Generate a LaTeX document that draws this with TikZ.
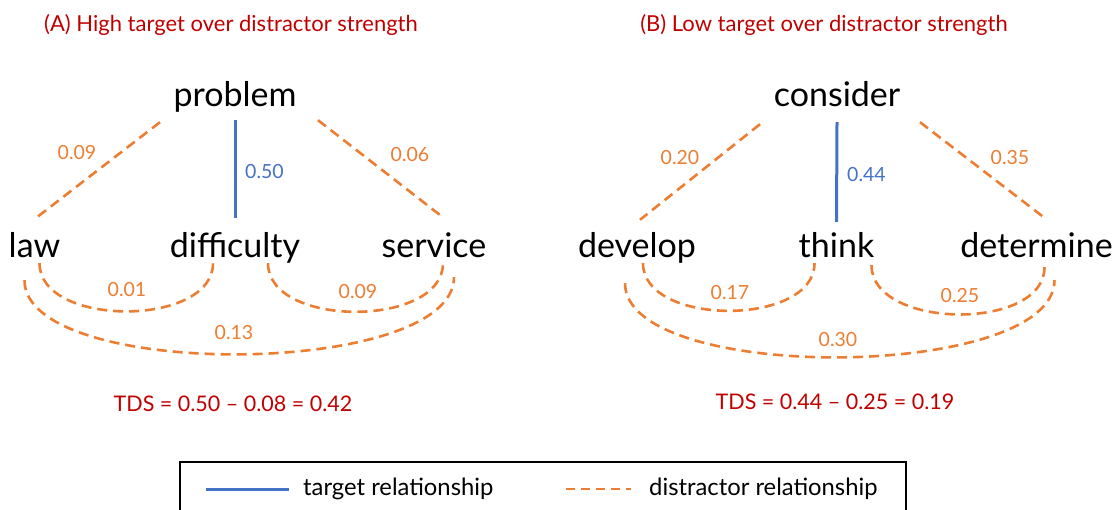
\documentclass[tikz,border=0pt]{standalone}
\usepackage{fontspec}
\setmainfont{Lato}
\usetikzlibrary{positioning, calc}

\definecolor{tgtblue}{HTML}{4472C4}
\definecolor{dstorange}{HTML}{ED7D31}
\definecolor{ttlred}{HTML}{C00000}

\begin{document}
\begin{tikzpicture}
   [
      x=1pt, y=1pt,
      % Style for the words of each triad
      word/.style={font=\fontsize{34}{38}\selectfont, inner sep=0pt, text height=23pt, text depth=7pt, anchor=base},
      % Style for the target (solid) and distractor (dashed) links
      target link/.style={draw=tgtblue, line width=3pt},
      distractor link/.style={draw=dstorange, line width=2.6pt, dash pattern=on 10pt off 6pt},
      % Style for the strength values on the links
      value/.style={font=\fontsize{19.5}{22}\selectfont, inner sep=0pt},
      % Style for the red headings and the TDS lines
      heading/.style={text=ttlred, font=\fontsize{21.5}{24}\selectfont, inner sep=0pt},
      % Style for the legend texts
      key/.style={font=\fontsize{23.8}{26}\selectfont, inner sep=0pt, anchor=west}
   ]

    % fix the page to the size of the reference
    \useasboundingbox (0,0) rectangle (1118,-510);

    % =======================================================
    % Panel A: High target over distractor strength
    % =======================================================

    \node[heading, font=\fontsize{22}{24}\selectfont] (titleA) at (231,-25) {(A) High target over distractor strength};

    % The words of the triad
    \node[word] (problem) at (235,-107) {problem};
    \node[word] (law) at (34.5,-258) {law};
    \node[word] (difficulty) at (235,-258) {difficulty};
    \node[word] (service) at (434,-258) {service};

    % Target link
    \draw[target link] ($(problem.south)+(0,-6)$) -- ($(difficulty.north)+(0,17)$);

    % Distractor links from the cue word
    \draw[distractor link] ($(problem.south)+(-75,-8)$) -- ($(law.north)+(3,18)$);
    \draw[distractor link] ($(problem.south)+(83,-6)$) -- ($(service.north)+(7,19)$);

    % Distractor links between the answers
    \draw[distractor link] ($(law.south)+(5,2)$) to[out=-90, in=-90, looseness=.95] ($(difficulty.south)+(-22,2)$);
    \draw[distractor link] ($(difficulty.south)+(33,2)$) to[out=-90, in=-90, looseness=.95] ($(service.south)+(9,2)$);
    \draw[distractor link] ($(law.south)+(-10,-15)$) to[out=-90, in=-90, looseness=.6] ($(service.south)+(20,-12)$);

    % Values
    \node[value, text=tgtblue, anchor=west] (vA1) at (245,-172) {0.50};
    \node[value, text=dstorange] (vA2) at (77,-153) {0.09};
    \node[value, text=dstorange] (vA3) at (410,-155) {0.06};
    \node[value, text=dstorange] (vA4) at (127,-290) {0.01};
    \node[value, text=dstorange] (vA5) at (358,-292) {0.09};
    \node[value, text=dstorange] (vA6) at (234,-333) {0.13};

    \node[heading] (tdsA) at (233,-404) {TDS = 0.50 -- 0.08 = 0.42};

    % =======================================================
    % Panel B: Low target over distractor strength
    % =======================================================

    \node[heading, font=\fontsize{22}{24}\selectfont] (titleB) at (824,-25) {(B) Low target over distractor strength};

    \begin{scope}[xshift=602pt]
    % The words of the triad
    \node[word] (consider) at (235,-107) {consider};
    \node[word] (develop) at (35,-258) {develop};
    \node[word] (think) at (234.5,-258) {think};
    \node[word] (determine) at (434.5,-258) {determine};

    % Target link
    \draw[target link] ($(consider.south)+(0,-8)$) -- ($(think.north)+(0,13)$);

    % Distractor links from the cue word
    \draw[distractor link] ($(consider.south)+(-77,-10)$) -- ($(develop.north)+(3,15)$);
    \draw[distractor link] ($(consider.south)+(83,-8)$) -- ($(determine.north)+(8,17)$);

    % Distractor links between the answers
    \draw[distractor link] ($(develop.south)+(6,2)$) to[out=-90, in=-90, looseness=.95] ($(think.south)+(-22,2)$);
    \draw[distractor link] ($(think.south)+(35,0)$) to[out=-90, in=-90, looseness=.95] ($(determine.south)+(8,-2)$);
    \draw[distractor link] ($(develop.south)+(-12,-18)$) to[out=-90, in=-90, looseness=.6] ($(determine.south)+(18,-15)$);

    % Values
    \node[value, text=tgtblue, anchor=west] (vB1) at (245,-175) {0.44};
    \node[value, text=dstorange] (vB2) at (78,-158) {0.20};
    \node[value, text=dstorange] (vB3) at (408,-158) {0.35};
    \node[value, text=dstorange] (vB4) at (128,-293) {0.17};
    \node[value, text=dstorange] (vB5) at (358,-296) {0.25};
    \node[value, text=dstorange] (vB6) at (236,-340) {0.30};
    \end{scope}

    \node[heading] (tdsB) at (835,-402) {TDS = 0.44 -- 0.25 = 0.19};

    % =======================================================
    % Legend
    % =======================================================

    \draw[line width=1.3pt] (906,-515) |- (180,-462) -- (180,-515);
    \node[key] (tgtkey) at (303,-489) {target relationship};
    \node[key] (dstkey) at (649,-489) {distractor relationship};
    \draw[target link] ($(tgtkey.west)+(-97,0)$) -- ($(tgtkey.west)+(-14,0)$);
    \draw[distractor link, line width=2.4pt, dash pattern=on 9pt off 6pt] ($(dstkey.west)+(-83,0)$) -- ($(dstkey.west)+(-18,0)$);

\end{tikzpicture}
\end{document}
